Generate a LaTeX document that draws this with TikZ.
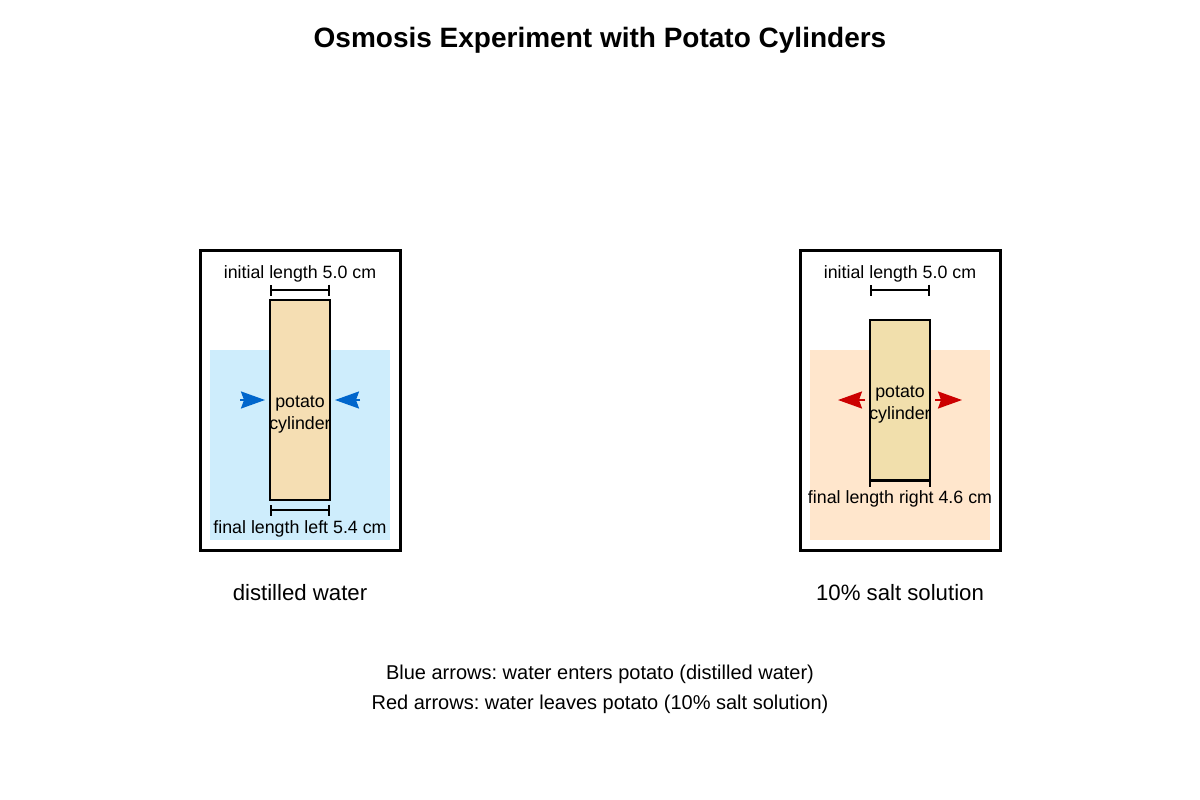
\documentclass[tikz,border=0pt]{standalone}
\usepackage{fontspec}
\setmainfont{Liberation Sans}
\usepackage{tikz}
\usetikzlibrary{arrows.meta, calc, positioning}
\usepackage{xcolor}
\definecolor{WaterBlue}{RGB}{206, 237, 252}
\definecolor{SaltPeach}{RGB}{255, 230, 204}
\definecolor{Potato}{RGB}{245, 222, 179}
\definecolor{PotatoDry}{RGB}{241, 223, 172}
\definecolor{InBlue}{RGB}{0, 102, 204}
\definecolor{OutRed}{RGB}{204, 0, 0}
\frenchspacing
\tikzset{%
  beaker/.style={%
    rectangle,%
    minimum width=200pt,%
    minimum height=300pt,%
    draw=black,%
    line width=3pt,%
  },
  liquid/.style={%
    rectangle,%
    minimum width=180pt,%
    minimum height=190pt,%
    draw=none,%
  },
  cylinder_block/.style={%
    rectangle,%
    minimum width=60pt,%
    draw=black,%
    line width=2pt,%
  },
  dim_line/.style={%
    line width=1.8pt,%
    {Bar[width=11pt, line width=1.8pt]}-{Bar[width=11pt, line width=1.8pt]},%
  },
  annotate/.style={%
    font={\fontsize{17.8}{20}\selectfont},%
    inner sep=0pt,%
  },
  legend_text/.style={%
    font={\fontsize{20}{22}\selectfont},%
    inner sep=0pt,%
  },
  caption/.style={%
    font={\fontsize{22.2}{25}\selectfont},%
    inner sep=0pt,%
  },
  osmo_arrow/.style={%
    line width=2pt,%
    -{Stealth[length=24pt, width=17pt, inset=3pt]},%
  },
}

\begin{document}
\begin{tikzpicture}[x=1pt, y=-1pt]
  \useasboundingbox (0,0) rectangle (1200,800);

  \node [font={\bfseries\fontsize{28}{32}\selectfont}] (Title) at (600,40)
    {Osmosis Experiment with Potato Cylinders};

  % distilled water
  \node [liquid, fill=WaterBlue] (Water) at (300,445) {};
  \node [beaker] (BeakerL) at (300,400) {};
  \node [cylinder_block, fill=Potato, minimum height=200pt] (PotatoL) at (300,400) {};
  \node [annotate, align=center] (PotatoTextL) at (300,415) {potato\\[2pt]cylinder};
  \coordinate (InitL1) at (270,290);
  \coordinate (InitL2) at (330,290);
  \coordinate (FinalL1) at (270,510);
  \coordinate (FinalL2) at (330,510);
  \draw [dim_line] (InitL1) -- (InitL2);
  \draw [dim_line] (FinalL1) -- (FinalL2);
  \node [annotate] (InitTextL) at (300,274) {initial length 5.0 cm};
  \node [annotate] (FinalTextL) at (300,529) {final length left 5.4 cm};
  \coordinate (InFromL) at (240,400);
  \coordinate (InFromR) at (360,400);
  \draw [osmo_arrow, InBlue] (InFromL) -- ($(PotatoL.west)+(-4,0)$);
  \draw [osmo_arrow, InBlue] (InFromR) -- ($(PotatoL.east)+(4,0)$);
  \node [caption] (CaptionL) at (300,593) {distilled water};

  % salt solution
  \node [liquid, fill=SaltPeach] (Salt) at (900,445) {};
  \node [beaker] (BeakerR) at (900,400) {};
  \node [cylinder_block, fill=PotatoDry, minimum height=160pt] (PotatoR) at (900,400) {};
  \node [annotate, align=center] (PotatoTextR) at (900,405) {potato\\[2pt]cylinder};
  \coordinate (InitR1) at (870,290);
  \coordinate (InitR2) at (930,290);
  \draw [dim_line] (InitR1) -- (InitR2);
  \draw [dim_line] (PotatoR.south west) -- (PotatoR.south east);
  \node [annotate] (InitTextR) at (900,274) {initial length 5.0 cm};
  \node [annotate] (FinalTextR) at (900,499) {final length right 4.6 cm};
  \coordinate (OutToL) at (838,400);
  \coordinate (OutToR) at (962,400);
  \draw [osmo_arrow, OutRed] ($(PotatoR.west)+(-4,0)$) -- (OutToL);
  \draw [osmo_arrow, OutRed] ($(PotatoR.east)+(4,0)$) -- (OutToR);
  \node [caption] (CaptionR) at (900,593) {10\% salt solution};

  % legend
  \node [legend_text] (LegendBlue) at (600,674)
    {Blue arrows: water enters potato (distilled water)};
  \node [legend_text] (LegendRed) at (600,704)
    {Red arrows: water leaves potato (10\% salt solution)};

\end{tikzpicture}
\end{document}
